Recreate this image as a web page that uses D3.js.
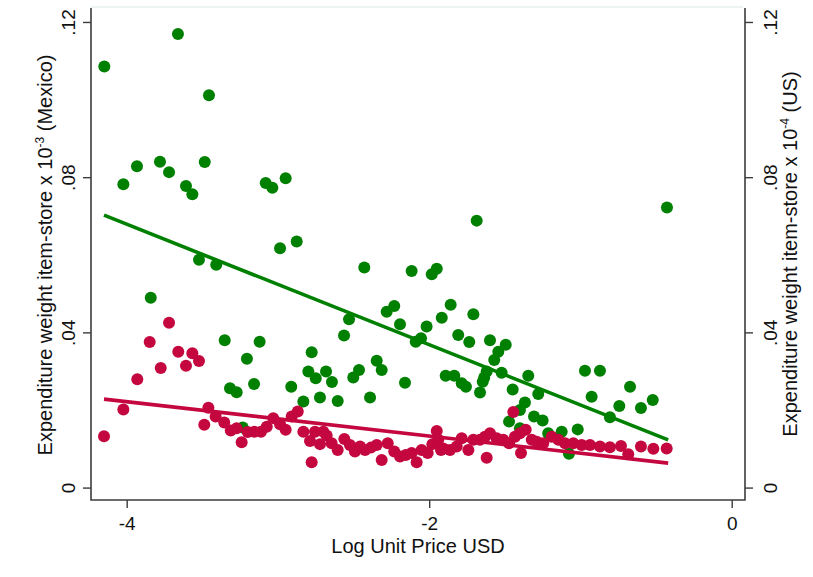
<!DOCTYPE html>
<html>
<head>
<meta charset="utf-8">
<script src="https://cdn.jsdelivr.net/npm/d3@7"></script>
<style>
  html, body { margin: 0; padding: 0; background: #fff; }
  svg { display: block; font-family: "Liberation Sans", Arial, Helvetica, sans-serif; }
</style>
</head>
<body>
<svg id="chart" width="813" height="577"></svg>
<script>
// Log unit price (x) and expenditure weight (y), green series
const mexicoPrice = [-4.148,-3.661,-3.456,-4.022,-3.932,-3.780,-3.720,-3.608,-3.566,-3.484,
  -3.081,-3.037,-2.949,-2.986,-2.876,-3.522,-3.408,-2.429,-2.116,-1.983,
  -1.950,-1.686,-0.428,-3.841,-3.352,-3.121,-3.205,-3.317,-3.273,-3.158,
  -2.912,-2.832,-3.233,-2.777,-2.799,-2.750,-2.682,-2.643,-2.722,-2.605,
  -2.502,-2.464,-2.347,-2.314,-2.391,-2.160,-2.530,-2.563,-2.281,-2.231,
  -2.193,-2.089,-2.054,-2.017,-1.917,-1.858,-1.708,-1.808,-1.735,-1.598,
  -1.494,-1.543,-1.570,-1.620,-1.636,-1.646,-1.664,-1.521,-1.891,-1.834,
  -1.785,-1.757,-1.345,-1.448,-1.279,-1.367,-1.400,-1.472,-1.307,-1.250,
  -1.400,-1.213,-1.124,-0.970,-0.871,-0.672,-0.926,-0.743,-0.600,-0.522,
  -0.805,-1.018,-1.076];
const mexicoWeight = [.1085,.1169,.1011,.0782,.0828,.0840,.0813,.0777,.0756,.0839,
  .0785,.0773,.0797,.0617,.0634,.0587,.0574,.0567,.0558,.0550,
  .0564,.0688,.0722,.0489,.0380,.0376,.0332,.0256,.0246,.0267,
  .0260,.0222,.0155,.0349,.0299,.0282,.0299,.0272,.0232,.0223,
  .0284,.0303,.0327,.0303,.0232,.0270,.0434,.0392,.0453,.0468,
  .0421,.0376,.0385,.0415,.0438,.0471,.0447,.0393,.0375,.0380,
  .0368,.0350,.0329,.0299,.0284,.0273,.0245,.0296,.0288,.0288,
  .0269,.0260,.0288,.0253,.0241,.0219,.0200,.0170,.0183,.0173,
  .0153,.0140,.0144,.0301,.0301,.0260,.0234,.0210,.0205,.0226,
  .0181,.0150,.0087];

// Log unit price (x) and expenditure weight (y), red series
const usPrice = [-4.150,-4.022,-3.930,-3.848,-3.720,-3.775,-3.659,-3.608,-3.566,-3.522,
  -3.460,-3.487,-3.412,-3.355,-3.312,-3.273,-3.240,-3.200,-3.156,-3.112,
  -3.074,-3.031,-2.986,-2.949,-2.909,-2.869,-2.832,-2.788,-2.755,-2.722,
  -2.777,-2.700,-2.678,-2.645,-2.605,-2.561,-2.524,-2.491,-2.457,-2.424,
  -2.385,-2.347,-2.314,-2.274,-2.231,-2.193,-2.155,-2.116,-2.083,-2.050,
  -2.010,-1.979,-1.950,-1.922,-1.940,-1.907,-1.862,-1.818,-1.785,-1.741,
  -1.708,-1.664,-1.631,-1.598,-1.620,-1.554,-1.510,-1.472,-1.433,-1.400,
  -1.362,-1.393,-1.322,-1.289,-1.246,-1.190,-1.146,-1.444,-1.102,-1.047,
  -0.992,-0.937,-0.871,-0.805,-0.732,-0.684,-0.600,-0.518,-0.430];
const usWeight = [.0132,.0201,.0279,.0375,.0425,.0308,.0350,.0314,.0346,.0326,
  .0206,.0162,.0183,.0168,.0147,.0153,.0117,.0143,.0144,.0144,
  .0157,.0179,.0163,.0149,.0183,.0196,.0144,.0120,.0144,.0112,
  .0065,.0144,.0134,.0114,.0097,.0125,.0110,.0093,.0106,.0097,
  .0103,.0110,.0071,.0114,.0093,.0080,.0084,.0089,.0065,.0097,
  .0089,.0112,.0146,.0097,.0123,.0101,.0097,.0106,.0127,.0097,
  .0123,.0123,.0131,.0140,.0077,.0127,.0123,.0114,.0131,.0140,
  .0149,.0089,.0123,.0118,.0114,.0131,.0123,.0195,.0114,.0114,
  .0110,.0110,.0106,.0104,.0107,.0086,.0106,.0100,.0101];

// Linear fit endpoints
const fitPrice = [-4.150, -0.420];
const mexicoFit = [0.0702, 0.0123];
const usFit = [0.0228, 0.0063];

// Axis ticks
const xTicks = [-4, -2, 0];
const yTicks = [0, 0.04, 0.08, 0.12];
const yTickLabels = ["0", ".04", ".08", ".12"];

const green = "#008000";
const red = "#c4073f";
const axisColor = "#3c3c3c";

const svg = d3.select("#chart");
const plot = { left: 91, right: 745, top: 8, bottom: 500 };

const x = d3.scaleLinear().domain([-4.236, 0.088]).range([plot.left, plot.right]);
const y = d3.scaleLinear().domain([-0.0032, 0.1236]).range([plot.bottom, plot.top]);

// faint plot-region edge on top
svg.append("line")
  .attr("x1", plot.left).attr("x2", plot.right - 2)
  .attr("y1", plot.top - 1).attr("y2", plot.top - 1)
  .attr("stroke", "#e9efef").attr("stroke-width", 1.5);

// markers
const gMarks = svg.append("g");
gMarks.selectAll("circle.mx")
  .data(d3.range(mexicoPrice.length))
  .join("circle").attr("class", "mx")
  .attr("cx", i => x(mexicoPrice[i]))
  .attr("cy", i => y(mexicoWeight[i]))
  .attr("r", 6).attr("fill", green);
gMarks.selectAll("circle.us")
  .data(d3.range(usPrice.length))
  .join("circle").attr("class", "us")
  .attr("cx", i => x(usPrice[i]))
  .attr("cy", i => y(usWeight[i]))
  .attr("r", 6).attr("fill", red);

// fitted lines
const line = d3.line().x(d => x(d[0])).y(d => y(d[1]));
svg.append("path")
  .attr("d", line(fitPrice.map((p, i) => [p, mexicoFit[i]])))
  .attr("stroke", green).attr("stroke-width", 3.6).attr("fill", "none");
svg.append("path")
  .attr("d", line(fitPrice.map((p, i) => [p, usFit[i]])))
  .attr("stroke", red).attr("stroke-width", 3.6).attr("fill", "none");

// axes
function styleAxis(g) {
  g.select(".domain").remove();
  g.selectAll(".tick line").attr("stroke", axisColor).attr("stroke-width", 1.4);
  g.selectAll(".tick text").attr("fill", "#111").attr("font-size", 19)
    .attr("font-family", '"Liberation Sans", Arial, Helvetica, sans-serif');
}

const xAxis = svg.append("g")
  .attr("transform", `translate(0,${plot.bottom})`)
  .call(d3.axisBottom(x).tickValues(xTicks).tickSize(8).tickPadding(4)
    .tickFormat(d => d < 0 ? "-" + Math.abs(d) : String(d)))
  .call(styleAxis);
xAxis.selectAll(".tick text").attr("dy", null).attr("y", 30);

const yLeft = svg.append("g")
  .attr("transform", `translate(${plot.left},0)`)
  .call(d3.axisLeft(y).tickValues(yTicks).tickSize(8)
    .tickFormat((d, i) => yTickLabels[i]))
  .call(styleAxis);
yLeft.selectAll(".tick text")
  .attr("x", null).attr("dy", null).attr("y", null)
  .attr("text-anchor", "middle")
  .attr("transform", "translate(-16,0) rotate(-90)");

const yRight = svg.append("g")
  .attr("transform", `translate(${plot.right},0)`)
  .call(d3.axisRight(y).tickValues(yTicks).tickSize(8)
    .tickFormat((d, i) => yTickLabels[i]))
  .call(styleAxis);
yRight.selectAll(".tick text")
  .attr("x", null).attr("dy", null).attr("y", null)
  .attr("text-anchor", "middle")
  .attr("transform", "translate(32,0) rotate(-90)");

// axis lines
svg.append("path")
  .attr("d", `M${plot.left},${plot.top}V${plot.bottom}H${plot.right}V${plot.top}`)
  .attr("fill", "none").attr("stroke", axisColor).attr("stroke-width", 1.6);

// titles
svg.append("text")
  .attr("x", (plot.left + plot.right) / 2 + 0).attr("y", 553)
  .attr("text-anchor", "middle").attr("font-size", 20).attr("fill", "#111")
  .text("Log Unit Price USD");

function yTitle(cx, cy, unitExp, country) {
  const t = svg.append("text")
    .attr("transform", `translate(${cx},${cy}) rotate(-90)`)
    .attr("text-anchor", "middle").attr("font-size", 20).attr("fill", "#111");
  t.append("tspan").text("Expenditure weight item-store x 10");
  t.append("tspan").attr("font-size", 12).attr("dy", -8).text(unitExp);
  t.append("tspan").attr("dy", 8).text(" (" + country + ")");
}
yTitle(52, 255, "-3", "Mexico");
yTitle(797, 254, "-4", "US");
</script>
</body>
</html>
